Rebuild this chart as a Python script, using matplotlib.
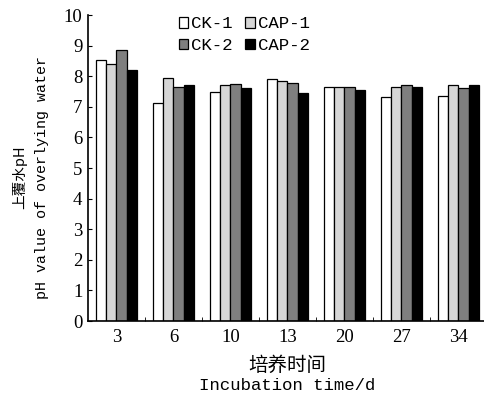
import numpy as np
import matplotlib
matplotlib.use("Agg")
import matplotlib.pyplot as plt

# pH of overlying water
days = ["3", "6", "10", "13", "20", "27", "34"]
ck1 = [8.53, 7.11, 7.49, 7.91, 7.66, 7.33, 7.36]
cap1 = [8.41, 7.95, 7.71, 7.84, 7.66, 7.66, 7.70]
ck2 = [8.87, 7.65, 7.75, 7.79, 7.66, 7.71, 7.61]
cap2 = [8.20, 7.71, 7.62, 7.46, 7.55, 7.66, 7.70]

series = [("CK-1", ck1, "white"), ("CAP-1", cap1, "#d6d6d6"),
          ("CK-2", ck2, "#7f7f7f"), ("CAP-2", cap2, "black")]

SERIF = "Liberation Serif"
MONO = "Liberation Mono"
CJK = "Noto Sans CJK SC"

fig = plt.figure(figsize=(4.85, 3.95), dpi=100)
ax = fig.add_axes([0.1814, 0.1873, 0.8227, 0.7747])

x = np.arange(len(days))
w = 0.18
bars = {}
for i, (name, vals, col) in enumerate(series):
    bars[name] = ax.bar(x + (i - 1.5) * w, vals, width=w, color=col,
                        edgecolor="black", linewidth=0.9, label=name)

ax.set_xlim(-0.5, len(days) - 0.5)
ax.set_ylim(0, 10)
ax.set_yticks(range(0, 11))
ax.set_xticks(x)
ax.set_xticklabels(days)
ax.set_xticks(np.arange(0.5, len(days) - 0.5), minor=True)
ax.tick_params(axis="x", which="major", length=0, pad=6)
ax.tick_params(axis="x", which="minor", direction="in", length=3)
ax.tick_params(axis="y", direction="in", length=3, pad=4)
for lab in ax.get_xticklabels() + ax.get_yticklabels():
    lab.set_fontfamily(SERIF)
    lab.set_fontsize(13.5)

for s in ("top", "right"):
    ax.spines[s].set_visible(False)
for s in ("left", "bottom"):
    ax.spines[s].set_linewidth(1.2)

# legend fills column-wise: put rows as CK-1 CAP-1 / CK-2 CAP-2
order = ["CK-1", "CK-2", "CAP-1", "CAP-2"]
ax.legend([bars[n] for n in order], order, ncol=2, frameon=False,
          loc="upper left", bbox_to_anchor=(0.21, 1.018),
          prop={"family": MONO, "size": 12.5},
          handlelength=0.55, handleheight=0.55, handletextpad=0.15,
          columnspacing=0.75, labelspacing=0.38, borderaxespad=0)

fig.text(0.041, 0.552, "上覆水pH", rotation=90, ha="center", va="center",
         family=[CJK, "DejaVu Sans"], fontsize=10.5)
fig.text(0.087, 0.55, "pH value of overlying water", rotation=90,
         ha="center", va="center", family=MONO, fontsize=10.8)
fig.text(0.592, 0.076, "培养时间", ha="center", va="center",
         family=[CJK, "DejaVu Sans"], fontsize=14)
fig.text(0.592, 0.023, "Incubation time/d", ha="center", va="center",
         family=MONO, fontsize=12.5)

fig.savefig("out.png", dpi=100)
